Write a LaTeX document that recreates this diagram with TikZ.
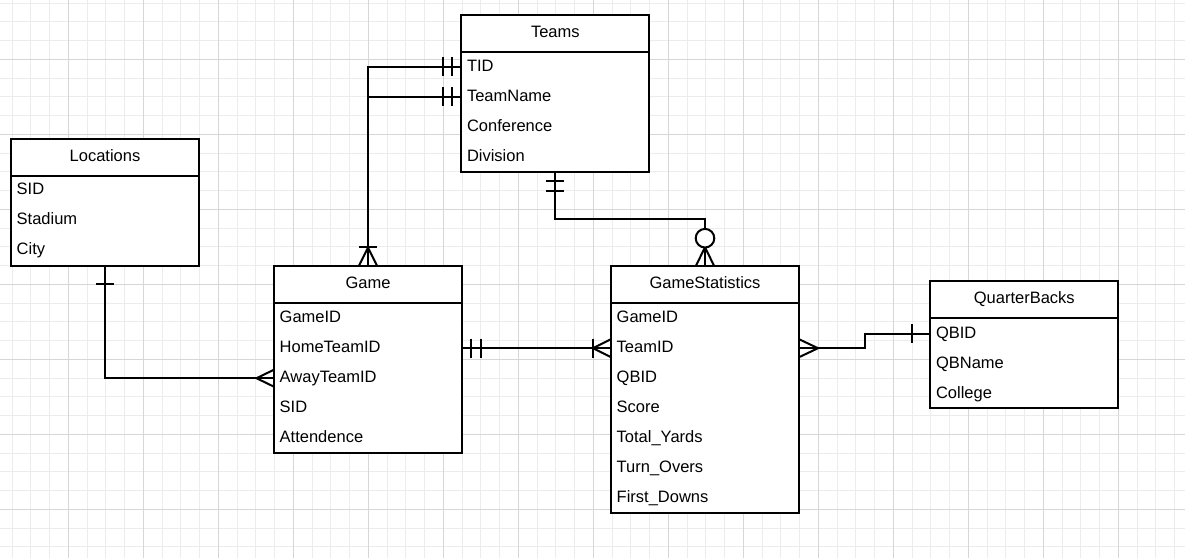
\documentclass[tikz,border=0pt]{standalone}
\usepackage{fontspec}
\setmainfont{Liberation Sans}
\usetikzlibrary{calc}
\tikzset{
  gridminor/.style={draw=gray!15, line width=1pt},
  gridmajor/.style={draw=gray!32, line width=1pt},
  ent/.style={draw=black, line width=2pt, fill=white, anchor=north west,
    minimum width=188pt, inner sep=0pt, outer sep=0pt},
  hdr/.style={line width=2pt},
  etitle/.style={anchor=base, inner sep=0pt, font=\fontsize{16.5}{19}\selectfont},
  attr/.style={anchor=base west, inner sep=0pt, text height=12pt, text depth=3pt,
    font=\fontsize{16.5}{19}\selectfont},
  conn/.style={draw=black, line width=2pt},
}
\begin{document}
\begin{tikzpicture}[x=1pt,y=-1pt]
\useasboundingbox (0,0) rectangle (1185,558);
\fill[white] (0,0) rectangle (1185,558);
% grid
\begin{scope}
\clip (0,0) rectangle (1185,558);
\foreach \i in {0,...,63} \draw[gridminor] ({12.05+18.75*\i},0) -- ++(0,558);
\foreach \i in {0,...,29} \draw[gridminor] (0,{3.05+18.75*\i}) -- ++(1185,0);
\foreach \i in {0,...,15} \draw[gridmajor] ({68.3+75*\i},0) -- ++(0,558);
\foreach \i in {0,...,6} \draw[gridmajor] (0,{59.3+75*\i}) -- ++(1185,0);
\end{scope}

% entity boxes
\node[ent, minimum height=157pt] (teams) at (461.3,14.7) {};
\node[ent, minimum height=127pt] (loc) at (11,138.7) {};
\node[ent, minimum height=187pt] (game) at (274,265.7) {};
\node[ent, minimum height=247pt] (gs) at (611,265.7) {};
\node[ent, minimum height=126.7pt] (qb) at (930.3,281) {};

\foreach \e in {teams,loc,game,gs,qb}
  \draw[hdr] ($(\e.north west)+(0,37.3)$) -- ($(\e.north east)+(0,37.3)$);

% titles
\node[etitle] (teamsT) at ($(teams.north)+(0,22.8)$) {Teams};
\node[etitle] (locT) at ($(loc.north)+(0,22.3)$) {Locations};
\node[etitle] (gameT) at ($(game.north)+(0,22.8)$) {Game};
\node[etitle] (gsT) at ($(gs.north)+(0,22.8)$) {GameStatistics};
\node[etitle] (qbT) at ($(qb.north)+(0,22.8)$) {QuarterBacks};

% attributes
\node[attr] (tid) at ($(teams.north west)+(5.5,56.5)$) {TID};
\node[attr] (teamname) at ($(teams.north west)+(5.5,86.5)$) {TeamName};
\node[attr] (conference) at ($(teams.north west)+(5.5,116.5)$) {Conference};
\node[attr] (division) at ($(teams.north west)+(5.5,146.5)$) {Division};

\node[attr] (lsid) at ($(loc.north west)+(5.5,55.5)$) {SID};
\node[attr] (stadium) at ($(loc.north west)+(5.5,85.5)$) {Stadium};
\node[attr] (city) at ($(loc.north west)+(5.5,115.5)$) {City};

\node[attr] (ggameid) at ($(game.north west)+(5.5,57)$) {GameID};
\node[attr] (hometeamid) at ($(game.north west)+(5.5,87)$) {HomeTeamID};
\node[attr] (awayteamid) at ($(game.north west)+(5.5,117)$) {AwayTeamID};
\node[attr] (gsid) at ($(game.north west)+(5.5,147)$) {SID};
\node[attr] (attendence) at ($(game.north west)+(5.5,177)$) {Attendence};

\node[attr] (sgameid) at ($(gs.north west)+(5.5,57)$) {GameID};
\node[attr] (teamid) at ($(gs.north west)+(5.5,87)$) {TeamID};
\node[attr] (sqbid) at ($(gs.north west)+(5.5,117)$) {QBID};
\node[attr] (score) at ($(gs.north west)+(5.5,147)$) {Score};
\node[attr] (totalyards) at ($(gs.north west)+(5.5,177)$) {Total\_Yards};
\node[attr] (turnovers) at ($(gs.north west)+(5.5,207)$) {Turn\_Overs};
\node[attr] (firstdowns) at ($(gs.north west)+(5.5,237)$) {First\_Downs};

\node[attr] (qbid) at ($(qb.north west)+(5.5,57)$) {QBID};
\node[attr] (qbname) at ($(qb.north west)+(5.5,87)$) {QBName};
\node[attr] (college) at ($(qb.north west)+(5.5,117)$) {College};

% ---- connectors ----
% Game -> Teams (TID, TeamName)
\coordinate (tTID) at (teams.west |- tid);
\coordinate (tTN) at (teams.west |- teamname);
\draw[conn] (game.north) |- (tTID);
\draw[conn] (game.north) |- (tTN);
\foreach \c in {tTID,tTN}{
  \draw[conn] ($(\c)+(-18,-9.5)$) -- ++(0,19);
  \draw[conn] ($(\c)+(-9.5,-9.5)$) -- ++(0,19);
}
\draw[conn] ($(game.north)+(-9,-19)$) -- ++(18,0);
\draw[conn] ($(game.north)+(-9,0)$) -- ($(game.north)+(0,-18)$) -- ($(game.north)+(9,0)$);

% Teams -> GameStatistics
\draw[conn] (teams.south) |- ($(teams.south)!0.5!(gs.north)$) -| (gs.north);
\draw[conn] ($(teams.south)+(-9,9.5)$) -- ++(18,0);
\draw[conn] ($(teams.south)+(-9,19.5)$) -- ++(18,0);
\draw[conn] ($(gs.north)+(-9,0)$) -- ($(gs.north)+(0,-18.5)$) -- ($(gs.north)+(9,0)$);
\draw[conn, fill=white] ($(gs.north)+(0,-27.5)$) circle (9.3);

% Game.HomeTeamID -> GameStatistics.TeamID
\coordinate (gHT) at (game.east |- hometeamid);
\coordinate (sTI) at (gs.west |- teamid);
\draw[conn] (gHT) -- (sTI);
\draw[conn] ($(gHT)+(9,-9.5)$) -- ++(0,19);
\draw[conn] ($(gHT)+(18.5,-9.5)$) -- ++(0,19);
\draw[conn] ($(sTI)+(-18,-9.5)$) -- ++(0,19);
\draw[conn] ($(sTI)+(0,-9)$) -- ($(sTI)+(-18,0)$) -- ($(sTI)+(0,9)$);

% GameStatistics -> QuarterBacks
\coordinate (sQ) at (gs.east |- teamid);
\coordinate (qQ) at (qb.west |- qbid);
\draw[conn] (sQ) -| ($(sQ)!0.5!(qQ)$) |- (qQ);
\draw[conn] ($(sQ)+(0,-9)$) -- ($(sQ)+(19,0)$) -- ($(sQ)+(0,9)$);
\draw[conn] ($(qQ)+(-18,-9.5)$) -- ++(0,19);

% Locations -> Game.AwayTeamID
\coordinate (gAT) at (game.west |- awayteamid);
\draw[conn] (loc.south) |- (gAT);
\draw[conn] ($(loc.south)+(-9,18.6)$) -- ++(18,0);
\draw[conn] ($(gAT)+(0,-8.5)$) -- ($(gAT)+(-17.5,0)$) -- ($(gAT)+(0,8.5)$);

\end{tikzpicture}
\end{document}
